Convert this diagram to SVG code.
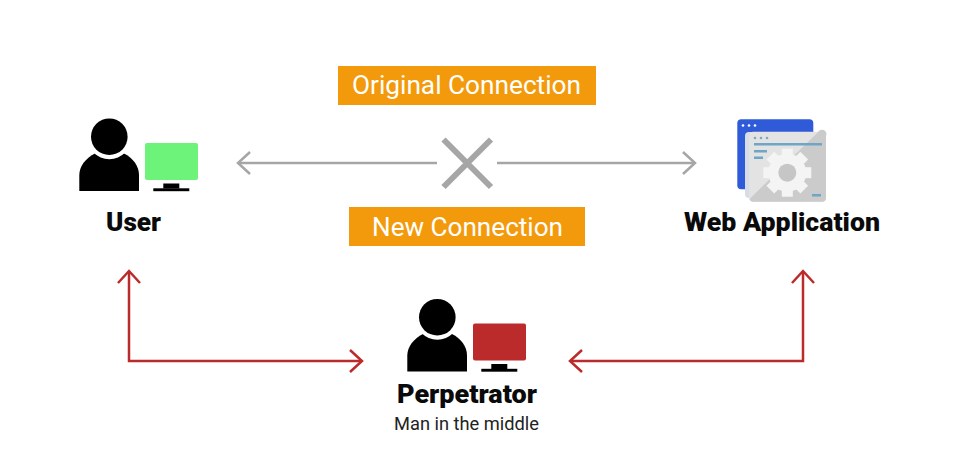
<svg xmlns="http://www.w3.org/2000/svg" xmlns:xlink="http://www.w3.org/1999/xlink" width="960" height="476" viewBox="0 0 960 476">
<style>
.tag{fill:#f39a0c}
.tagt{font:400 26px Roboto,sans-serif;fill:#fff;text-anchor:middle}
.name{font:900 26px Roboto,sans-serif;fill:#0a0a0a;text-anchor:middle}
.sub{font:400 18px Roboto,sans-serif;fill:#222;text-anchor:middle}
.g{fill:none;stroke:#a6a6a6;stroke-width:2.500}
.r{fill:none;stroke:#bb2b2b;stroke-width:2.500}
</style>
<defs>
<marker id="ag" viewBox="-14 -12 16 24" markerUnits="userSpaceOnUse" markerWidth="16" markerHeight="24" refX="0" refY="0" orient="auto-start-reverse"><path d="M-12 -11L0 0L-12 11" fill="none" stroke="#a6a6a6" stroke-width="2.500"/></marker>
<marker id="ar" viewBox="-14 -12 16 24" markerUnits="userSpaceOnUse" markerWidth="16" markerHeight="24" refX="0" refY="0" orient="auto-start-reverse"><path d="M-12 -11L0 0L-12 11" fill="none" stroke="#bb2b2b" stroke-width="2.500"/></marker>
<g id="person">
<path d="M79.300 191V175C79.300 166 86 158 95 153.500H124C133 158 139 166 139 175V191Z" fill="#000"/>
<circle cx="109.300" cy="136.700" r="22.500" fill="#fff"/>
<circle cx="109.300" cy="136.700" r="18.300" fill="#000"/>
</g>
<g id="stand"><rect x="163.300" y="183.500" width="16" height="5" fill="#000"/><rect x="153.300" y="188.300" width="36" height="2.900" fill="#000"/></g>
</defs>
<rect width="960" height="476" fill="#fff"/>
<g id="connectors">
<path class="g" d="M437 163H238" marker-end="url(#ag)"/>
<path class="g" d="M497 163H695" marker-end="url(#ag)"/>
<path class="g" d="M443.500 139.500L491 187M491 139.500L443.500 187" style="stroke-width:6"/>
<path class="r" d="M129 271V361H362" marker-start="url(#ar)" marker-end="url(#ar)"/>
<path class="r" d="M570 361H803V271" marker-start="url(#ar)" marker-end="url(#ar)"/>
</g>
<g id="label-original"><rect class="tag" x="338" y="66" width="258" height="39"/><text class="tagt" x="466.500" y="94" textLength="229" lengthAdjust="spacingAndGlyphs">Original Connection</text></g>
<g id="label-new"><rect class="tag" x="349" y="207" width="236" height="39"/><text class="tagt" x="467.500" y="236" textLength="191" lengthAdjust="spacingAndGlyphs">New Connection</text></g>
<g id="user">
<use href="#person"/>
<rect x="145" y="143" width="53" height="37" rx="2" fill="#6df27a"/>
<use href="#stand"/>
<text class="name" x="133.500" y="231" textLength="55" lengthAdjust="spacingAndGlyphs">User</text>
</g>
<g id="web-application">
<rect x="737.300" y="119.300" width="76" height="70" rx="4" fill="#2f5bd8"/>
<circle cx="743" cy="125.500" r="1.300" fill="#fff"/><circle cx="749" cy="125.500" r="1.300" fill="#fff"/><circle cx="755" cy="125.500" r="1.300" fill="#fff"/>
<rect x="745" y="132" width="20" height="66" rx="4" fill="#d7dce6"/>
<rect x="749.300" y="131.700" width="76.700" height="70" rx="4" fill="#e3e3e3"/>
<path d="M826 136V197.700a4 4 0 0 1-4 4H753a4 4 0 0 1-3.700-2.500L818 132.200a4 4 0 0 1 8 3.800Z" fill="#cbcbcb"/>
<circle cx="755" cy="138" r="1.300" fill="#7ba9c4"/><circle cx="761" cy="138" r="1.300" fill="#7ba9c4"/><circle cx="767" cy="138" r="1.300" fill="#7ba9c4"/>
<rect x="754" y="143" width="68" height="2.500" fill="#6fa6c6"/>
<rect x="754" y="150" width="13" height="2.500" fill="#6fa6c6"/>
<rect x="754" y="156.500" width="9" height="2.500" fill="#6fa6c6"/>
<rect x="812" y="194" width="9" height="2.500" fill="#6fa6c6"/>
<g fill="#f4f4f4" transform="translate(787.300 172.700)">
<circle r="19"/>
<rect x="-5.500" y="-24" width="11" height="48"/>
<rect x="-5.500" y="-24" width="11" height="48" transform="rotate(45)"/>
<rect x="-5.500" y="-24" width="11" height="48" transform="rotate(90)"/>
<rect x="-5.500" y="-24" width="11" height="48" transform="rotate(135)"/>
</g>
<circle cx="787.300" cy="172.700" r="9" fill="#c6c6c6"/>
<text class="name" x="782" y="231" textLength="196" lengthAdjust="spacingAndGlyphs">Web Application</text>
</g>
<g id="perpetrator">
<use href="#person" x="328" y="180.500"/>
<rect x="473" y="323.500" width="53" height="37" rx="2" fill="#bb2b2b"/>
<use href="#stand" x="328" y="180.500"/>
<text class="name" x="467" y="403" textLength="140" lengthAdjust="spacingAndGlyphs">Perpetrator</text>
<text class="sub" x="466.500" y="430" textLength="145" lengthAdjust="spacingAndGlyphs">Man in the middle</text>
</g>
</svg>
